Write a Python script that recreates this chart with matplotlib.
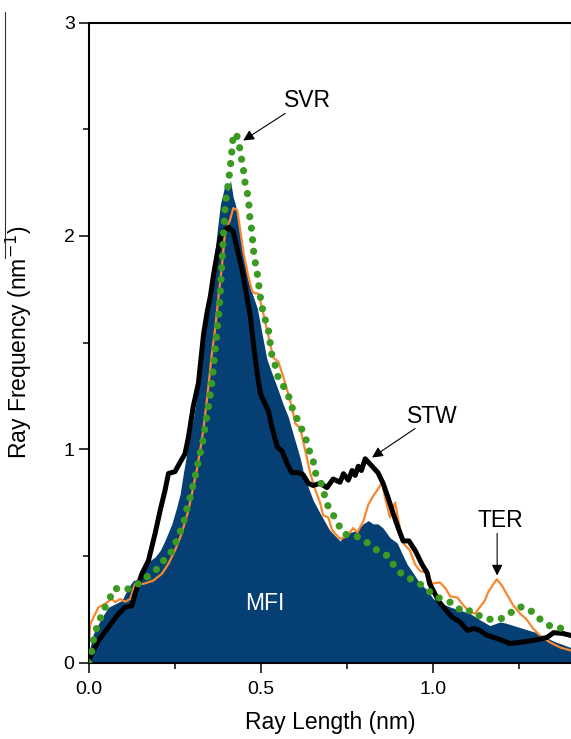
import numpy as np
import matplotlib
matplotlib.use("Agg")
import matplotlib.pyplot as plt
from matplotlib.lines import Line2D

plt.rcParams["font.family"] = ["Liberation Sans", "DejaVu Sans"]

# MFI ray-length histogram (filled area)
mfi_x = [0.0, 0.014, 0.039, 0.058, 0.097, 0.116, 0.13, 0.145, 0.164, 0.179,
         0.193, 0.208, 0.222, 0.242, 0.256, 0.266, 0.275, 0.285, 0.295, 0.305,
         0.32, 0.335, 0.345, 0.354, 0.365, 0.374, 0.383, 0.392, 0.397, 0.404,
         0.412, 0.42, 0.426, 0.44, 0.45, 0.464, 0.475, 0.49, 0.505, 0.518,
         0.536, 0.551, 0.565, 0.58, 0.594, 0.605, 0.614, 0.624, 0.638, 0.652,
         0.672, 0.70, 0.73, 0.745, 0.76, 0.78, 0.797, 0.812, 0.826, 0.84,
         0.855, 0.875, 0.896, 0.91, 0.925, 0.942, 0.962, 0.983, 1.0, 1.02,
         1.05, 1.078, 1.107, 1.136, 1.165, 1.194, 1.21, 1.25, 1.30, 1.35, 1.40]
mfi_y = [0.04, 0.134, 0.212, 0.259, 0.291, 0.353, 0.384, 0.392, 0.447, 0.478,
         0.494, 0.525, 0.572, 0.65, 0.728, 0.791, 0.884, 0.978, 1.072, 1.15,
         1.30, 1.52, 1.65, 1.78, 1.90, 2.03, 2.15, 2.21, 2.25, 2.21,
         2.26, 2.18, 2.15, 2.03, 1.92, 1.79, 1.73, 1.66, 1.53, 1.42,
         1.34, 1.275, 1.21, 1.15, 1.07, 1.01, 0.96, 0.89, 0.82, 0.76,
         0.70, 0.62, 0.57, 0.60, 0.61, 0.62, 0.65, 0.665, 0.65, 0.65,
         0.63, 0.585, 0.56, 0.51, 0.46, 0.42, 0.37, 0.34, 0.30, 0.28,
         0.26, 0.245, 0.23, 0.20, 0.173, 0.19, 0.185, 0.165, 0.14, 0.10, 0.07]

# orange curve
ter_x = [0.0, 0.005, 0.014, 0.029, 0.048, 0.068, 0.077, 0.092, 0.106, 0.121,
         0.135, 0.16, 0.188, 0.213, 0.232, 0.251, 0.27, 0.29, 0.304, 0.314,
         0.324, 0.333, 0.345, 0.359, 0.368, 0.377, 0.388, 0.397, 0.41, 0.42,
         0.432, 0.44, 0.45, 0.464, 0.475, 0.484, 0.493, 0.504, 0.518, 0.536,
         0.551, 0.565, 0.577, 0.59, 0.60, 0.614, 0.624, 0.635, 0.643, 0.658,
         0.672, 0.681, 0.696, 0.707, 0.73, 0.75, 0.768, 0.78, 0.797, 0.812,
         0.826, 0.841, 0.852, 0.861, 0.875, 0.89, 0.899, 0.913, 0.933, 0.948,
         0.962, 0.983, 0.997, 1.02, 1.035, 1.05, 1.07, 1.087, 1.107, 1.122,
         1.136, 1.15, 1.16, 1.172, 1.185, 1.20, 1.214, 1.232, 1.252, 1.27,
         1.29, 1.31, 1.34, 1.37, 1.40]
ter_y = [0.06, 0.18, 0.21, 0.259, 0.275, 0.298, 0.283, 0.298, 0.285, 0.298,
         0.369, 0.369, 0.384, 0.416, 0.463, 0.525, 0.603, 0.713, 0.822, 0.90,
         0.994, 1.087, 1.25, 1.46, 1.57, 1.71, 1.87, 2.03, 2.07, 2.13,
         2.12, 2.03, 1.92, 1.81, 1.74, 1.73, 1.73, 1.66, 1.56, 1.43,
         1.41, 1.34, 1.275, 1.20, 1.12, 1.10, 1.03, 0.95, 0.89, 0.81,
         0.75, 0.69, 0.68, 0.62, 0.58, 0.59, 0.63, 0.61, 0.66, 0.74,
         0.78, 0.815, 0.845, 0.77, 0.68, 0.75, 0.67, 0.56, 0.525, 0.46,
         0.43, 0.42, 0.37, 0.375, 0.35, 0.31, 0.305, 0.27, 0.235, 0.23,
         0.26, 0.29, 0.33, 0.36, 0.39, 0.36, 0.32, 0.27, 0.23, 0.205,
         0.16, 0.127, 0.094, 0.07, 0.056]

# black curve
stw_x = [0.0, 0.005, 0.029, 0.058, 0.087, 0.106, 0.126, 0.135, 0.155, 0.174,
         0.193, 0.209, 0.222, 0.232, 0.251, 0.266, 0.28, 0.29, 0.304, 0.319,
         0.334, 0.344, 0.354, 0.363, 0.374, 0.383, 0.39, 0.406, 0.42, 0.43,
         0.446, 0.46, 0.47, 0.478, 0.49, 0.499, 0.513, 0.522, 0.533, 0.548,
         0.562, 0.577, 0.59, 0.609, 0.623, 0.638, 0.652, 0.672, 0.692, 0.71,
         0.73, 0.74, 0.754, 0.765, 0.774, 0.783, 0.792, 0.803, 0.823, 0.84,
         0.855, 0.87, 0.884, 0.899, 0.913, 0.93, 0.948, 0.968, 0.983, 0.99,
         1.006, 1.02, 1.04, 1.058, 1.078, 1.10, 1.118, 1.136, 1.157, 1.186,
         1.223, 1.25, 1.29, 1.33, 1.35, 1.377, 1.40]
stw_y = [0.0, 0.025, 0.103, 0.166, 0.228, 0.259, 0.266, 0.322, 0.416, 0.478,
         0.603, 0.72, 0.806, 0.886, 0.895, 0.939, 0.978, 1.056, 1.20, 1.31,
         1.54, 1.64, 1.72, 1.82, 1.92, 1.99, 2.02, 2.04, 2.02, 1.95,
         1.84, 1.71, 1.62, 1.50, 1.35, 1.26, 1.21, 1.18, 1.10, 1.01,
         0.99, 0.93, 0.89, 0.89, 0.88, 0.84, 0.83, 0.84, 0.82, 0.86,
         0.845, 0.885, 0.855, 0.90, 0.877, 0.92, 0.90, 0.955, 0.92, 0.89,
         0.84, 0.77, 0.70, 0.63, 0.57, 0.57, 0.525, 0.46, 0.42, 0.37,
         0.32, 0.28, 0.24, 0.21, 0.19, 0.15, 0.16, 0.15, 0.127, 0.113,
         0.089, 0.094, 0.103, 0.117, 0.14, 0.136, 0.127]

# green dotted curve
svr_x = [0.0, 0.008, 0.012, 0.019, 0.031, 0.043, 0.06, 0.075, 0.106, 0.135,
         0.16, 0.184, 0.208, 0.227, 0.246, 0.256, 0.27, 0.28, 0.287, 0.297,
         0.304, 0.312, 0.319, 0.326, 0.333, 0.339, 0.352, 0.36, 0.368, 0.374,
         0.38, 0.386, 0.391, 0.397, 0.406, 0.414, 0.42, 0.429, 0.438, 0.443,
         0.449, 0.453, 0.46, 0.465, 0.467, 0.472, 0.475, 0.478, 0.481, 0.487,
         0.493, 0.496, 0.501, 0.507, 0.516, 0.522, 0.527, 0.533, 0.545, 0.551,
         0.568, 0.583, 0.592, 0.606, 0.62, 0.635, 0.643, 0.655, 0.66, 0.675,
         0.684, 0.693, 0.707, 0.722, 0.736, 0.76, 0.78, 0.797, 0.826, 0.852,
         0.87, 0.89, 0.919, 0.948, 0.977, 1.006, 1.03, 1.058, 1.087, 1.113,
         1.142, 1.174, 1.197, 1.223, 1.246, 1.267, 1.29, 1.319, 1.348, 1.377,
         1.40]
svr_y = [0.0, 0.033, 0.088, 0.142, 0.192, 0.244, 0.295, 0.348, 0.34, 0.357,
         0.389, 0.42, 0.45, 0.503, 0.525, 0.577, 0.627, 0.678, 0.731, 0.784,
         0.837, 0.889, 0.944, 0.994, 1.048, 1.11, 1.24, 1.34, 1.47, 1.57,
         1.67, 1.83, 1.99, 2.15, 2.25, 2.36, 2.47, 2.48, 2.42, 2.37,
         2.32, 2.26, 2.21, 2.16, 2.10, 2.05, 2.0, 1.95, 1.90, 1.85,
         1.79, 1.74, 1.69, 1.64, 1.59, 1.56, 1.50, 1.43, 1.38, 1.33,
         1.29, 1.24, 1.19, 1.14, 1.09, 1.03, 0.98, 0.93, 0.88, 0.84,
         0.79, 0.74, 0.70, 0.66, 0.61, 0.59, 0.59, 0.577, 0.54, 0.51,
         0.50, 0.445, 0.40, 0.385, 0.35, 0.31, 0.295, 0.277, 0.235, 0.245,
         0.21, 0.20, 0.205, 0.23, 0.26, 0.26, 0.235, 0.19, 0.164, 0.16,
         0.16]

navy = "#053F73"
orange = "#F7882F"
green = "#3C9A22"

fig = plt.figure(figsize=(5.71, 7.39), dpi=100)
ax = fig.add_axes([0.155, 0.1035, 0.846, 0.866])

ax.fill_between(mfi_x, mfi_y, 0, color=navy, lw=0, zorder=1)
ax.plot(ter_x, ter_y, color=orange, lw=1.6, zorder=2)
ax.plot(stw_x, stw_y, color="black", lw=3.6, solid_joinstyle="round", zorder=3)
ax.plot(svr_x, svr_y, color=green, lw=5.2, linestyle=(0, (0.01, 1.6)),
        dash_capstyle="round", zorder=4)

ax.set_xlim(0, 1.402)
ax.set_ylim(0, 3)
ax.set_xticks([0.0, 0.5, 1.0])
ax.set_xticklabels(["0.0", "0.5", "1.0"])
ax.set_xticks([0.25, 0.75, 1.25], minor=True)
ax.set_yticks([0, 1, 2, 3])
ax.set_yticks([0.5, 1.5, 2.5], minor=True)
ax.tick_params(which="major", direction="out", length=7, width=1.1, labelsize=14)
ax.tick_params(axis="x", which="major", pad=6)
ax.tick_params(axis="y", which="major", pad=3)
ax.tick_params(which="minor", direction="out", length=4.5, width=1.1)
for s in ax.spines.values():
    s.set_linewidth(1.5)

ax.set_xlabel("Ray Length (nm)", fontsize=16.5)
ax.set_ylabel("Ray Frequency (nm$^{-1}$)", fontsize=16.5)
ax.xaxis.set_label_coords(0.5, -0.093)
ax.xaxis.label.set_va("center")
ax.yaxis.set_label_coords(-0.145, 0.5)
ax.yaxis.label.set_va("center")

arrow = dict(arrowstyle="-|>", color="black", lw=0.8, mutation_scale=16,
             shrinkA=0, shrinkB=0)
ax.annotate("", xy=(0.449, 2.447), xytext=(0.571, 2.574), arrowprops=arrow)
ax.text(0.635, 2.635, "SVR", fontsize=16.5, ha="center", va="center")
ax.annotate("", xy=(0.823, 0.961), xytext=(0.948, 1.097), arrowprops=arrow)
ax.text(0.997, 1.153, "STW", fontsize=16.5, ha="center", va="center")
ax.annotate("", xy=(1.186, 0.408), xytext=(1.186, 0.605), arrowprops=arrow)
ax.text(1.194, 0.666, "TER", fontsize=16.5, ha="center", va="center")
ax.text(0.513, 0.277, "MFI", fontsize=16.5, color="white", ha="center", va="center")

# stray line at the left edge of the original figure
fig.add_artist(Line2D([5 / 571, 5 / 571], [1 - 12 / 739, 1 - 258 / 739],
                      color="#333333", lw=0.8))

fig.savefig("out.png", dpi=100)
